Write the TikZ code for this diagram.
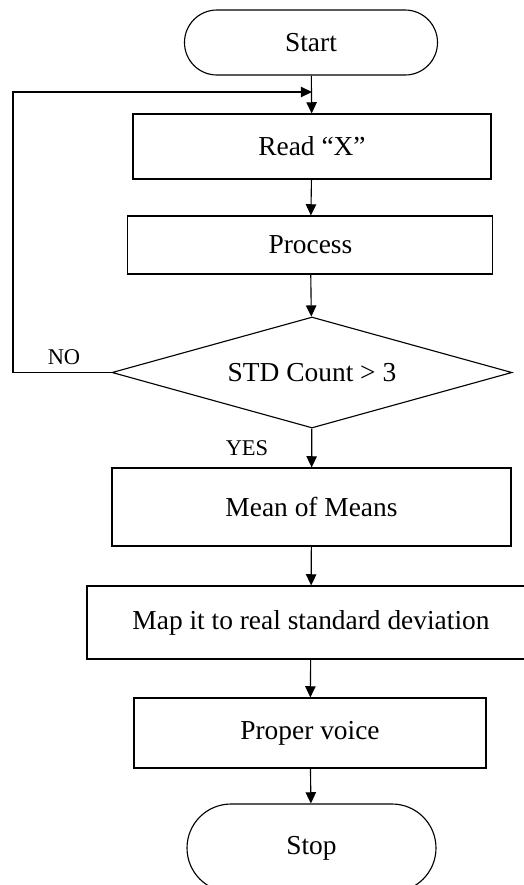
\documentclass[tikz,border=0pt]{standalone}
\usepackage{fontspec}
\setmainfont{Liberation Serif}
\usetikzlibrary{shapes.geometric,arrows.meta}
\begin{document}
\begin{tikzpicture}[>={Triangle[length=2.8mm,width=2.6mm]}, line width=0.8pt,
  box/.style={draw, rectangle, inner sep=0pt, font=\fontsize{19.5}{23}\selectfont},
  term/.style={box, rounded corners=#1},
  frage/.style={draw, diamond, aspect=3.6, inner sep=0pt, font=\fontsize{19.5}{23}\selectfont},
  marke/.style={font=\fontsize{16}{19}\selectfont}]
\useasboundingbox (0,0) rectangle (13.1,-22.125);
% Kaesten
\node[term=0.81cm, minimum width=6.325cm, minimum height=1.625cm] (start) at (7.775,-1.0625) {Start};
\node[box, minimum width=8.95cm, minimum height=1.625cm] (read) at (7.8,-3.6625) {Read “X”};
\node[box, minimum width=9.125cm, minimum height=1.45cm] (proc) at (7.76,-6.125) {Process};
\node[frage, minimum width=10cm, minimum height=2.775cm] (std) at (7.8,-9.3125) {STD Count > 3};
\node[box, minimum width=9.975cm, minimum height=1.95cm] (mean) at (7.7875,-12.675) {Mean of Means};
\node[box, minimum width=11.2cm, minimum height=1.825cm] (map) at (7.775,-15.5625) {Map it to real standard deviation};
\node[box, minimum width=8.8cm, minimum height=1.75cm] (voice) at (7.75,-18.325) {Proper voice};
\node[term=1.1cm, minimum width=6.225cm, minimum height=2.2cm] (stop) at (7.7875,-21.2) {Stop};
% Pfeile
\coordinate (knick) at (0.325,-2.3);
\coordinate (rein) at (read.north |- knick);
\draw[->] (start) -- (read);
\draw[->] (read) -- (proc);
\draw[->] (proc) -- (std);
\draw[->] (std) -- (mean);
\draw[->] (mean) -- (map);
\draw[->] (map) -- (voice);
\draw[->] (voice) -- (stop);
\draw[->] (std.west) -| (knick) -- (rein);
% Beschriftungen
\node[marke] (nein) at (1.6,-8.925) {NO};
\node[marke] (ja) at (6.175,-11.2) {YES};
\end{tikzpicture}
\end{document}
